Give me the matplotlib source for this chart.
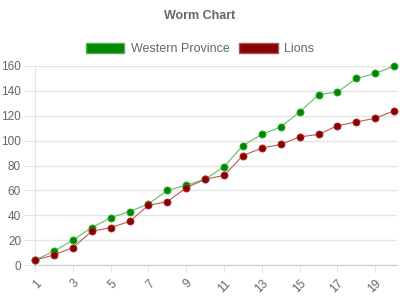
import matplotlib
matplotlib.use('Agg')
import matplotlib.pyplot as plt
from matplotlib.patches import Patch

plt.rcParams['font.family'] = ['Liberation Sans', 'DejaVu Sans']

# ------------------------------------------------------------
# data (cumulative points per over/round)
# ------------------------------------------------------------
rounds = list(range(1, 21))
western_province = [4, 11, 20, 30, 38, 43, 49, 60, 64, 69,
                    79, 96, 105, 111, 123, 137, 139, 150, 154, 160]
lions = [4, 8, 14, 27, 30, 35, 48, 51, 62, 69,
         72, 88, 94, 97, 103, 105, 112, 115, 118, 124]

wp_dot, wp_line = '#008800', '#5fbf5f'
li_dot, li_line = '#880000', '#b85a5a'
grid_c = '#e4e4e4'
text_c = '#666666'

fig = plt.figure(figsize=(4, 3), dpi=100)
ax = fig.add_axes([35 / 400, 1 - 265 / 300, 362 / 400, 199 / 300])

ax.plot(rounds, western_province, color=wp_line, lw=0.8, zorder=2, clip_on=False)
ax.plot(rounds, lions, color=li_line, lw=0.8, zorder=2, clip_on=False)
ax.scatter(rounds, western_province, s=26, color=wp_dot, edgecolors='#33aa33',
           linewidths=0.6, zorder=3, clip_on=False)
ax.scatter(rounds, lions, s=26, color=li_dot, edgecolors='#aa3333',
           linewidths=0.6, zorder=3, clip_on=False)

ax.set_xlim(1, 20.15)
ax.set_ylim(0, 160)
ax.set_yticks(range(0, 161, 20))
ax.set_xticks(rounds[::2])
ax.set_xticklabels([str(r) for r in rounds[::2]], rotation=45, ha='right',
                   va='top', rotation_mode='anchor')

ax.grid(axis='y', color=grid_c, lw=1)
ax.set_axisbelow(True)
for s in ['top', 'right']:
    ax.spines[s].set_visible(False)
ax.spines['left'].set_color(grid_c)
ax.spines['bottom'].set_color('#cccccc')
ax.tick_params(axis='y', length=8, color=grid_c, labelsize=8.5,
               labelcolor=text_c, pad=2)
ax.tick_params(axis='x', length=5, color=grid_c, labelsize=8.5,
               labelcolor=text_c, pad=4)

fig.text(0.5, 1 - 16 / 300, 'Worm Chart', ha='center', va='center',
         fontsize=9, fontweight='bold', color=text_c)

handles = [Patch(facecolor=wp_dot, edgecolor='#55aa55', label='Western Province'),
           Patch(facecolor=li_dot, edgecolor='#aa5555', label='Lions')]
fig.legend(handles=handles, loc='center', bbox_to_anchor=(0.5, 1 - 49 / 300),
           ncol=2, frameon=False, fontsize=9, handlelength=3.1,
           handleheight=0.9, handletextpad=0.5, columnspacing=0.8,
           labelcolor=text_c)

fig.savefig('out.png', dpi=100)
